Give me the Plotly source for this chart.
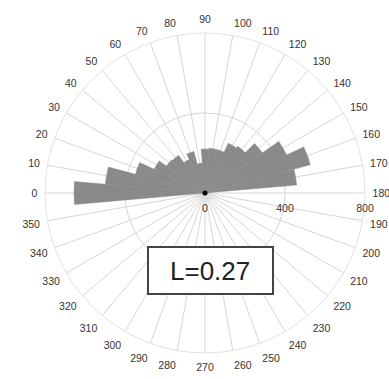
import plotly.graph_objects as go

# Rose histogram: 10-degree bins, counts per bin
bin_centers = [0, 10, 20, 30, 40, 50, 60, 70, 80, 90,
               100, 110, 120, 130, 140, 150, 160, 170]
bin_counts = [655, 500, 360, 280, 235, 230, 185, 215, 150, 220,
              225, 225, 275, 285, 350, 450, 545, 460]
bin_width = 10

angle_ticks = list(range(0, 360, 10))
radial_ticks = [0, 400, 800]
stat_label = "L=0.27"

fig = go.Figure()

fig.add_trace(go.Barpolar(
    theta=bin_centers,
    r=bin_counts,
    width=[bin_width] * len(bin_centers),
    marker=dict(color="#8a8a8a", line=dict(width=0.5, color="#8a8a8a")),
    opacity=1,
    showlegend=False,
))

# origin marker
fig.add_trace(go.Scatterpolar(
    r=[0], theta=[0], mode="markers",
    marker=dict(color="black", size=5),
    showlegend=False,
))

fig.update_layout(
    width=389, height=379,
    margin=dict(l=0, r=0, t=0, b=0),
    paper_bgcolor="white",
    plot_bgcolor="white",
    font=dict(family="Liberation Sans, Arial", size=10, color="#333333"),
    polar=dict(
        domain=dict(x=[45 / 389, 365 / 389], y=[26 / 379, 346 / 379]),
        bgcolor="white",
        bargap=0,
        angularaxis=dict(
            rotation=180,
            direction="clockwise",
            tickmode="array",
            tickvals=angle_ticks,
            ticktext=[str(a) for a in angle_ticks],
            showgrid=True,
            gridcolor="#d6d6d6",
            gridwidth=1,
            showline=True,
            linecolor="#e2e2e2",
            linewidth=1,
            ticks="outside",
            ticklen=5,
            tickcolor="rgba(0,0,0,0)",
            tickfont=dict(size=10.5, color="#333333"),
            layer="below traces",
        ),
        radialaxis=dict(
            range=[0, 800],
            tickmode="array",
            tickvals=radial_ticks,
            ticktext=[str(v) for v in radial_ticks],
            angle=0,
            side="clockwise",
            showline=False,
            showgrid=True,
            gridcolor="#d6d6d6",
            ticks="outside",
            ticklen=6,
            tickcolor="rgba(0,0,0,0)",
            tickfont=dict(size=10.5, color="#333333"),
            tickangle=0,
            layer="below traces",
        ),
    ),
    shapes=[dict(
        type="rect", xref="paper", yref="paper",
        x0=148 / 389, x1=273 / 389,
        y0=1 - 294 / 379, y1=1 - 247 / 379,
        line=dict(color="#444444", width=2),
        fillcolor="white",
        layer="above",
    )],
    annotations=[dict(
        text=stat_label, xref="paper", yref="paper",
        x=210.5 / 389, y=1 - 270.5 / 379,
        xanchor="center", yanchor="middle",
        showarrow=False,
        font=dict(size=26, color="#222222", family="Liberation Sans, Arial"),
    )],
)

fig.write_html("out.html")
